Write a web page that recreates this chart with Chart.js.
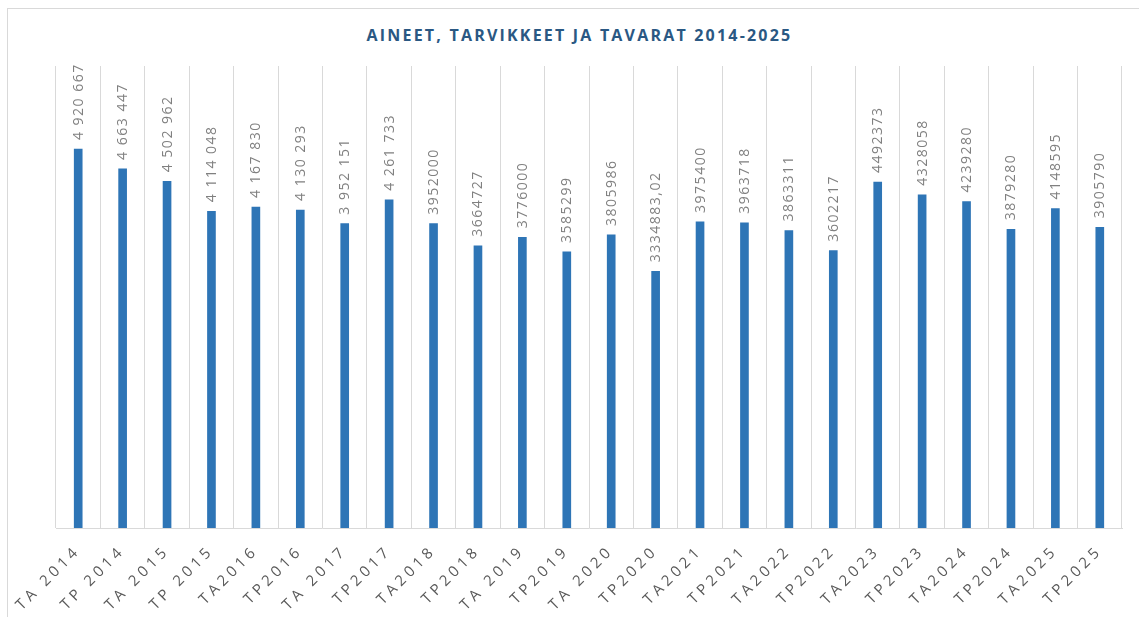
<!DOCTYPE html>
<html>
<head>
<meta charset="utf-8">
<script src="https://cdn.jsdelivr.net/npm/chart.js@4.4.1/dist/chart.umd.min.js"></script>
<style>
  html, body { margin: 0; padding: 0; background: #fff; }
  .wrap { position: relative; width: 1139px; height: 617px; overflow: hidden; }
  .frame { position: absolute; left: 7px; top: 8px; width: 1200px; height: 700px; border: 1px solid #d9d9d9; box-sizing: border-box; }
  .title { position: absolute; left: 0; top: 25px; width: 1159px; text-align: center;
    font: bold 16px/20px "Open Sans", sans-serif; letter-spacing: 2.2px; color: #2a5883; }
  canvas { position: absolute; left: 0; top: 0; }
</style>
</head>
<body>
<div class="wrap">
  <div class="frame"></div>
  <div class="title">AINEET, TARVIKKEET JA TAVARAT 2014-2025</div>
  <canvas id="c" width="1139" height="617"></canvas>
</div>
<script>
const categories = ['TA 2014', 'TP 2014', 'TA 2015', 'TP 2015', 'TA2016', 'TP2016', 'TA 2017', 'TP2017',
  'TA2018', 'TP2018', 'TA 2019', 'TP2019', 'TA 2020', 'TP2020', 'TA2021', 'TP2021',
  'TA2022', 'TP2022', 'TA2023', 'TP2023', 'TA2024', 'TP2024', 'TA2025', 'TP2025'];

const values = [4920667, 4663447, 4502962, 4114048, 4167830, 4130293, 3952151, 4261733,
  3952000, 3664727, 3776000, 3585299, 3805986, 3334883.02, 3975400, 3963718,
  3863311, 3602217, 4492373, 4328058, 4239280, 3879280, 4148595, 3905790];

// labels exactly as written on the original chart
const valueLabels = ['4 920 667', '4 663 447', '4 502 962', '4 114 048', '4 167 830', '4 130 293', '3 952 151', '4 261 733',
  '3952000', '3664727', '3776000', '3585299', '3805986', '3334883,02', '3975400', '3963718',
  '3863311', '3602217', '4492373', '4328058', '4239280', '3879280', '4148595', '3905790'];

const yMax = 6000000;

// spaced-out text like the original + rotated value labels over each bar
const labelPlugin = {
  id: 'valueLabels',
  beforeDraw(chart) {
    chart.ctx.letterSpacing = '4px';
  },
  afterDatasetsDraw(chart) {
    const ctx = chart.ctx;
    const meta = chart.getDatasetMeta(0);
    ctx.save();
    ctx.letterSpacing = '1.5px';
    ctx.font = '14px "Open Sans", sans-serif';
    ctx.fillStyle = '#808080';
    ctx.textAlign = 'left';
    ctx.textBaseline = 'middle';
    meta.data.forEach((bar, i) => {
      ctx.save();
      ctx.translate(bar.x + 0.5, bar.y - 9);
      ctx.rotate(-Math.PI / 2);
      ctx.fillText(valueLabels[i], 0, 0);
      ctx.restore();
    });
    ctx.restore();
  }
};

new Chart(document.getElementById('c'), {
  type: 'bar',
  data: {
    labels: categories,
    datasets: [{
      data: values,
      backgroundColor: '#2e75b6',
      barThickness: 8
    }]
  },
  plugins: [labelPlugin],
  options: {
    responsive: false,
    animation: false,
    layout: { padding: { left: 56, right: 17, top: 66, bottom: 0 } },
    plugins: {
      legend: { display: false },
      title: { display: false },
      tooltip: { enabled: false }
    },
    scales: {
      y: { display: false, min: 0, max: yMax },
      x: {
        grid: { color: '#d9d9d9', drawTicks: false, offset: true },
        border: { color: '#d9d9d9' },
        ticks: {
          autoSkip: false,
          minRotation: 45,
          maxRotation: 45,
          padding: 14,
          color: '#595959',
          font: { family: '"Open Sans", sans-serif', size: 15 }
        },
        afterFit(axis) {
          axis.paddingLeft = 0;
          axis.paddingRight = 0;
          axis.height = 89;
        }
      }
    }
  }
});
</script>
</body>
</html>
